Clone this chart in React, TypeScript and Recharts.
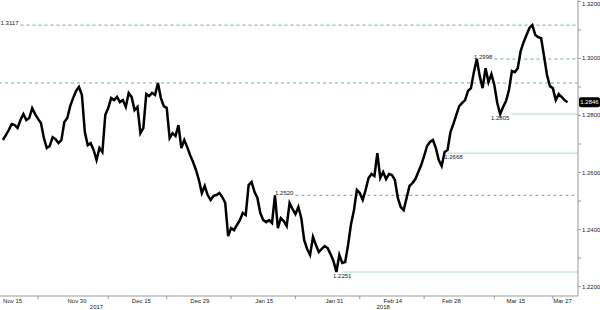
import { LineChart, Line, XAxis, YAxis, ReferenceLine, ReferenceDot } from 'recharts'

// trading sessions shown on the chart (weekdays, Nov 13 2017 - Mar 27 2018)
const sessions: [string, number[]][] = [
  ['Nov', [13, 14, 15, 16, 17, 20, 21, 22, 23, 24, 27, 28, 29, 30]],
  ['Dec', [1, 4, 5, 6, 7, 8, 11, 12, 13, 14, 15, 18, 19, 20, 21, 22, 25, 26, 27, 28, 29]],
  ['Jan', [1, 2, 3, 4, 5, 8, 9, 10, 11, 12, 15, 16, 17, 18, 19, 22, 23, 24, 25, 26, 29, 30, 31]],
  ['Feb', [1, 2, 5, 6, 7, 8, 9, 12, 13, 14, 15, 16, 19, 20, 21, 22, 23, 26, 27, 28]],
  ['Mar', [1, 2, 5, 6, 7, 8, 9, 12, 13, 14, 15, 16, 19, 20, 21, 22, 23, 26, 27]],
]
const tradingDays = sessions.flatMap(([m, days]) => days.map((d) => `${m} ${d}`))

// two readings per session (morning / afternoon)
const price = [
  1.2714, 1.2731, 1.2749, 1.2770, 1.2766, 1.2756, 1.2784, 1.2805, 1.2784, 1.2791,
  1.2826, 1.2805, 1.2788, 1.2774, 1.2721, 1.2686, 1.2693, 1.2724, 1.2717, 1.2703,
  1.2714, 1.2777, 1.2791, 1.2833, 1.2861, 1.2886, 1.2900, 1.2872, 1.2742, 1.2696,
  1.2703, 1.2679, 1.2644, 1.2686, 1.2672, 1.2802, 1.2826, 1.2861, 1.2854, 1.2865,
  1.2847, 1.2854, 1.2830, 1.2879, 1.2865, 1.2819, 1.2830, 1.2738, 1.2756, 1.2875,
  1.2868, 1.2879, 1.2872, 1.2914, 1.2861, 1.2833, 1.2826, 1.2721, 1.2738, 1.2728,
  1.2766, 1.2686, 1.2714, 1.2689, 1.2661, 1.2637, 1.2609, 1.2574, 1.2528, 1.2553,
  1.2521, 1.2504, 1.2518, 1.2521, 1.2528, 1.2514, 1.2493, 1.2377, 1.2405, 1.2398,
  1.2416, 1.2433, 1.2458, 1.2451, 1.2556, 1.2567, 1.2532, 1.2511, 1.2458, 1.2433,
  1.2426, 1.2433, 1.2423, 1.2520, 1.2405, 1.2440, 1.2430, 1.2412, 1.2493, 1.2472,
  1.2454, 1.2479, 1.2440, 1.2363, 1.2332, 1.2311, 1.2374, 1.2346, 1.2321, 1.2332,
  1.2342, 1.2335, 1.2314, 1.2290, 1.2251, 1.2311, 1.2283, 1.2286, 1.2346, 1.2419,
  1.2468, 1.2539, 1.2528, 1.2504, 1.2539, 1.2581, 1.2595, 1.2588, 1.2668, 1.2581,
  1.2602, 1.2577, 1.2595, 1.2591, 1.2574, 1.2511, 1.2479, 1.2468, 1.2511, 1.2553,
  1.2563, 1.2577, 1.2602, 1.2626, 1.2658, 1.2693, 1.2707, 1.2714, 1.2686, 1.2644,
  1.2623, 1.2672, 1.2679, 1.2742, 1.2770, 1.2802, 1.2833, 1.2844, 1.2854, 1.2886,
  1.2896, 1.2952, 1.2998, 1.2938, 1.2896, 1.2966, 1.2917, 1.2945, 1.2907, 1.2844,
  1.2805, 1.2830, 1.2851, 1.2889, 1.2956, 1.2952, 1.2966, 1.3026, 1.3057, 1.3082,
  1.3107, 1.3117, 1.3082, 1.3075, 1.3071, 1.3008, 1.2942, 1.2903, 1.2896, 1.2854,
  1.2875, 1.2865, 1.2854, 1.2846,
]

const xLabels = ['Nov 15', 'Nov 30', 'Dec 15', 'Dec 29', 'Jan 15', 'Jan 31', 'Feb 14', 'Feb 28', 'Mar 15', 'Mar 27']
const xMarks = ['Nov 21', 'Dec 7', 'Dec 21', 'Jan 5', 'Jan 22', 'Feb 6', 'Feb 21', 'Mar 9', 'Mar 23']
const yearLabels = ['2017', '2018']
const yearAt = ['Dec 5', 'Feb 12']
const yTicks = [1.22, 1.23, 1.24, 1.25, 1.26, 1.27, 1.28, 1.29, 1.3, 1.31, 1.32]

// annotated highs (dashed) and lows (solid)
const highLevels = [1.3117, 1.2998, 1.252]
const highFrom = ['Nov 16', 'Mar 9', 'Jan 22']
const lowLevels = [1.2805, 1.2668, 1.2251]
const lowFrom = ['Mar 14', 'Feb 27', 'Feb 1']
const lowLabelAt = ['Mar 12', 'Feb 28', 'Feb 1']
const resistance = 1.2914
const lastPrice = 1.2846

const dayIndex = (d: string) => tradingDays.indexOf(d)
const data = price.map((p, i) => ({ t: i / 2, price: p }))
const xEnd = 98.3

const FONT = '"Liberation Sans", Arial, sans-serif'
const TEXT = '#222'
const DASH = '#6fae9f'
const SOLID = '#a8dcc6'

const XTick = (props: any) => {
  const { x, y, payload } = props
  const v = payload.value
  const li = xLabels.findIndex((d) => dayIndex(d) === v)
  if (li >= 0) {
    return (
      <text x={x - 2} y={y + 5} textAnchor="middle" dominantBaseline="central" fontSize={6} fontFamily={FONT} fill={TEXT}>
        {xLabels[li]}
      </text>
    )
  }
  const yi = yearAt.findIndex((d) => dayIndex(d) === v)
  if (yi >= 0) {
    return (
      <text x={x} y={y + 11} textAnchor="middle" dominantBaseline="central" fontSize={6} fontFamily={FONT} fill={TEXT}>
        {yearLabels[yi]}
      </text>
    )
  }
  return <line x1={x} x2={x} y1={y} y2={y + 3} stroke="#999" strokeWidth={1} />
}

const YTick = (props: any) => {
  const { x, y, payload } = props
  const v: number = payload.value
  if (Math.round(v * 100) % 2 !== 0) return <g />
  return (
    <text x={x} y={Math.max(y, 4)} textAnchor="start" dominantBaseline="central" fontSize={6} fontFamily={FONT} fill={TEXT}>
      {v.toFixed(4)}
    </text>
  )
}

export default function App() {
  const xTicks = [...xLabels, ...xMarks, ...yearAt].map(dayIndex).sort((a, b) => a - b)
  const last = data[data.length - 1].t
  return (
    <div style={{ position: 'fixed', left: 0, top: 0, width: 600, height: 310, background: '#fff' }}>
      <LineChart width={600} height={310} data={data} margin={{ top: 0, right: 0, bottom: 0, left: 0 }}>
        <XAxis
          dataKey="t"
          type="number"
          domain={[-0.5, xEnd]}
          ticks={xTicks}
          interval={0}
          tick={<XTick />}
          tickLine={false}
          tickSize={0}
          tickMargin={0}
          height={14}
          stroke="#999"
          allowDataOverflow
        />
        <YAxis
          orientation="right"
          type="number"
          domain={[1.2167, 1.3205]}
          ticks={yTicks}
          interval={0}
          width={22}
          tickSize={3}
          tickMargin={1}
          stroke="#999"
          tick={<YTick />}
          allowDataOverflow
        />
        <ReferenceLine y={resistance} stroke={DASH} strokeDasharray="3 3" />
        {highLevels.map((lv, i) => (
          <ReferenceLine
            key={`h${lv}`}
            segment={[{ x: dayIndex(highFrom[i]), y: lv }, { x: xEnd, y: lv }]}
            stroke={DASH}
            strokeDasharray="3 3"
          />
        ))}
        {lowLevels.map((lv, i) => (
          <ReferenceLine
            key={`l${lv}`}
            segment={[{ x: dayIndex(lowFrom[i]), y: lv }, { x: xEnd, y: lv }]}
            stroke={SOLID}
          />
        ))}
        <Line
          type="linear"
          dataKey="price"
          stroke="#000"
          strokeWidth={2.5}
          strokeLinejoin="miter"
          dot={false}
          activeDot={false}
          isAnimationActive={false}
        />
        {highLevels.map((lv, i) => (
          <ReferenceDot
            key={`hl${lv}`}
            x={dayIndex(highFrom[i])}
            y={lv}
            r={0}
            fill="none"
            stroke="none"
            label={({ viewBox }: any) => (
              <text x={viewBox.x - 2} y={viewBox.y - 2} textAnchor="end" dominantBaseline="central" fontSize={6} fontFamily={FONT} fill={TEXT}>
                {lv.toFixed(4)}
              </text>
            )}
          />
        ))}
        {lowLevels.map((lv, i) => (
          <ReferenceDot
            key={`ll${lv}`}
            x={dayIndex(lowLabelAt[i])}
            y={lv}
            r={0}
            fill="none"
            stroke="none"
            label={({ viewBox }: any) => (
              <text x={viewBox.x} y={viewBox.y + 3.5} textAnchor="middle" dominantBaseline="central" fontSize={6} fontFamily={FONT} fill={TEXT}>
                {lv.toFixed(4)}
              </text>
            )}
          />
        ))}
        <ReferenceDot
          x={last}
          y={lastPrice}
          r={0}
          fill="none"
          stroke="none"
          label={({ viewBox }: any) => (
            <g>
              <rect x={579} y={viewBox.y - 5} width={21} height={10} rx={2} fill="#000" />
              <text x={589.5} y={viewBox.y} textAnchor="middle" dominantBaseline="central" fontSize={6} fontFamily={FONT} fill="#fff">
                {lastPrice.toFixed(4)}
              </text>
            </g>
          )}
        />
      </LineChart>
    </div>
  )
}
